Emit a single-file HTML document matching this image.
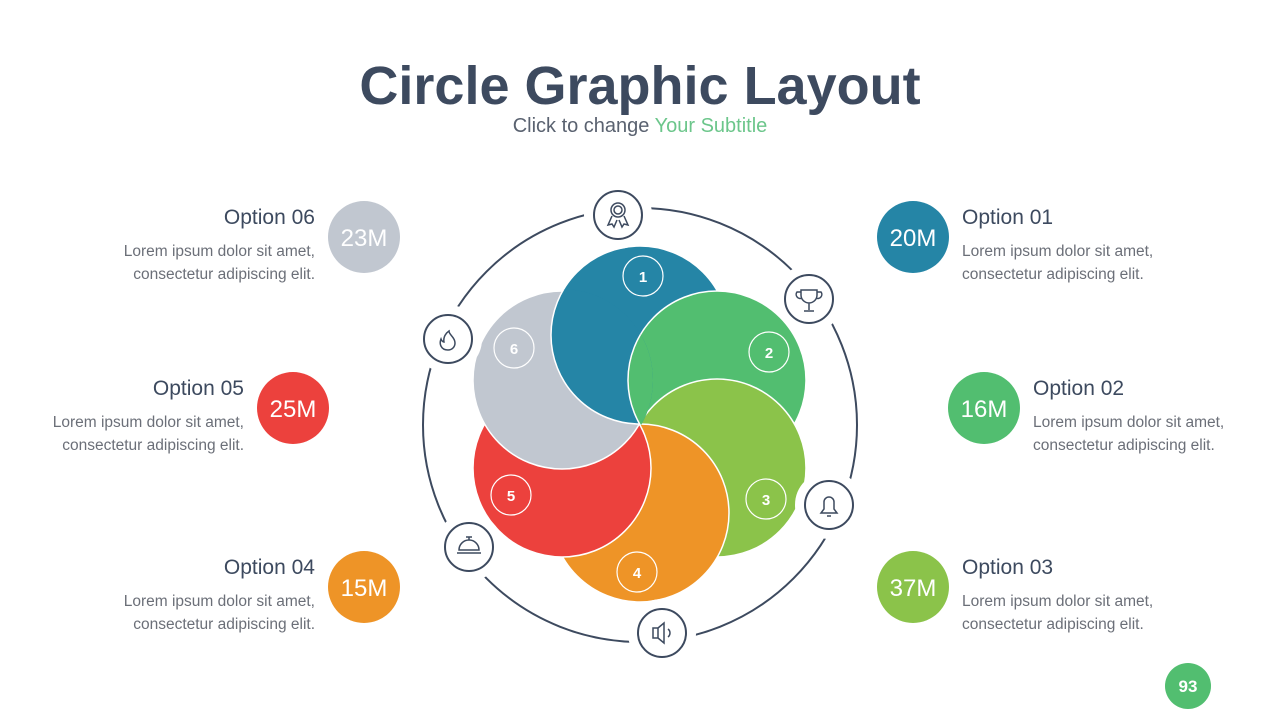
<!DOCTYPE html>
<html><head><meta charset="utf-8"><style>
body{margin:0;width:1280px;height:720px;background:#fff;overflow:hidden;font-family:"Liberation Sans",sans-serif;}
svg{position:absolute;left:0;top:0}
</style></head><body>
<svg width="1280" height="720" viewBox="0 0 1280 720">
<defs><clipPath id="gc"><circle cx="562" cy="380" r="91"/></clipPath></defs>
<text x="640" y="104" text-anchor="middle" font-size="54" font-weight="bold" fill="#3d4a5f">Circle Graphic Layout</text>
<text x="640" y="132" text-anchor="middle" font-size="20" fill="#5a6270">Click to change <tspan fill="#6cc68b">Your Subtitle</tspan></text>

<circle cx="640" cy="425" r="217" fill="none" stroke="#3d4a5f" stroke-width="2"/>
<g stroke="#fff" stroke-width="1.5">
<circle cx="640" cy="335" r="89" fill="#2585a6"/>
<circle cx="717" cy="380" r="89" fill="#52be70"/>
<circle cx="717" cy="468" r="89" fill="#8bc34a"/>
<circle cx="640" cy="513" r="89" fill="#ee9427"/>
<circle cx="562" cy="468" r="89" fill="#ec413d"/>
<circle cx="562" cy="380" r="89" fill="#c1c7d0"/>
<g clip-path="url(#gc)">
<circle cx="640" cy="335" r="89" fill="#2585a6"/>
<circle cx="717" cy="380" r="89" fill="#52be70"/>
</g>
</g>
<g fill="none" stroke="#fff" stroke-width="1.2">
<circle cx="643" cy="276" r="20"/><circle cx="769" cy="352" r="20"/><circle cx="766" cy="499" r="20"/>
<circle cx="637" cy="572" r="20"/><circle cx="511" cy="495" r="20"/><circle cx="514" cy="348" r="20"/>
</g>
<g fill="#fff" font-size="15" font-weight="bold" text-anchor="middle">
<text x="643" y="282">1</text><text x="769" y="358">2</text><text x="766" y="505">3</text>
<text x="637" y="578">4</text><text x="511" y="501">5</text><text x="514" y="354">6</text>
</g>
<g fill="#fff" stroke="#3d4a5f" stroke-width="2">
<circle cx="618" cy="215" r="24" stroke="#fff" stroke-width="20"/><circle cx="618" cy="215" r="24"/>
<circle cx="809" cy="299" r="24" stroke="#fff" stroke-width="20"/><circle cx="809" cy="299" r="24"/>
<circle cx="829" cy="505" r="24" stroke="#fff" stroke-width="20"/><circle cx="829" cy="505" r="24"/>
<circle cx="662" cy="633" r="24" stroke="#fff" stroke-width="20"/><circle cx="662" cy="633" r="24"/>
<circle cx="469" cy="547" r="24" stroke="#fff" stroke-width="20"/><circle cx="469" cy="547" r="24"/>
<circle cx="448" cy="339" r="24" stroke="#fff" stroke-width="20"/><circle cx="448" cy="339" r="24"/>
</g>
<g fill="none" stroke="#3d4a5f" stroke-width="1.5">
<circle cx="618" cy="210" r="7"/><circle cx="618" cy="210" r="4"/><path d="M612 216l-4 9 4-1 2 3 3-7M624 216l4 9-4-1-2 3-3-7"/>
<path d="M801 290h16v5a8 8 0 0 1-16 0z M801 292h-4a4 4 0 0 0 5 6M817 292h4a4 4 0 0 1-5 6M809 303v7M804 311h10"/>
<path d="M821 513h16l-3-4v-7a5 5 0 0 0-10 0v7z M827 516h4"/>
<path d="M653 628h5v10h-5z M658 628l6-5v20l-6-5M668 629a5 5 0 0 1 0 8"/>
<path d="M457 553h24M459 550a10 10 0 0 1 20 0z M469 540v-3M466 537h6"/>
<path d="M448 350c-7 0-9-6-7-11 1 3 3 3 3 3-1-5 2-9 5-11 0 4 6 6 6 12 0 4-3 7-7 7z"/>
</g>

<g font-size="15.5" fill="#6b6f78">
<circle cx="913" cy="237" r="36" fill="#2585a6"/><text x="913" y="246" text-anchor="middle" font-size="24" fill="#fff">20M</text>
<text x="962" y="224" font-size="21" fill="#3d4a5f">Option 01</text>
<text x="962" y="256">Lorem ipsum dolor sit amet,</text><text x="962" y="279">consectetur adipiscing elit.</text>

<circle cx="984" cy="408" r="36" fill="#52be70"/><text x="984" y="417" text-anchor="middle" font-size="24" fill="#fff">16M</text>
<text x="1033" y="395" font-size="21" fill="#3d4a5f">Option 02</text>
<text x="1033" y="427">Lorem ipsum dolor sit amet,</text><text x="1033" y="450">consectetur adipiscing elit.</text>

<circle cx="913" cy="587" r="36" fill="#8bc34a"/><text x="913" y="596" text-anchor="middle" font-size="24" fill="#fff">37M</text>
<text x="962" y="574" font-size="21" fill="#3d4a5f">Option 03</text>
<text x="962" y="606">Lorem ipsum dolor sit amet,</text><text x="962" y="629">consectetur adipiscing elit.</text>

<circle cx="364" cy="237" r="36" fill="#c1c7d0"/><text x="364" y="246" text-anchor="middle" font-size="24" fill="#fff">23M</text>
<text x="315" y="224" font-size="21" fill="#3d4a5f" text-anchor="end">Option 06</text>
<text x="315" y="256" text-anchor="end">Lorem ipsum dolor sit amet,</text><text x="315" y="279" text-anchor="end">consectetur adipiscing elit.</text>

<circle cx="293" cy="408" r="36" fill="#ec413d"/><text x="293" y="417" text-anchor="middle" font-size="24" fill="#fff">25M</text>
<text x="244" y="395" font-size="21" fill="#3d4a5f" text-anchor="end">Option 05</text>
<text x="244" y="427" text-anchor="end">Lorem ipsum dolor sit amet,</text><text x="244" y="450" text-anchor="end">consectetur adipiscing elit.</text>

<circle cx="364" cy="587" r="36" fill="#ee9427"/><text x="364" y="596" text-anchor="middle" font-size="24" fill="#fff">15M</text>
<text x="315" y="574" font-size="21" fill="#3d4a5f" text-anchor="end">Option 04</text>
<text x="315" y="606" text-anchor="end">Lorem ipsum dolor sit amet,</text><text x="315" y="629" text-anchor="end">consectetur adipiscing elit.</text>
</g>
<circle cx="1188" cy="686" r="23" fill="#52be70"/>
<text x="1188" y="692" text-anchor="middle" font-size="17" font-weight="bold" fill="#fff">93</text>
</svg>
</body></html>
